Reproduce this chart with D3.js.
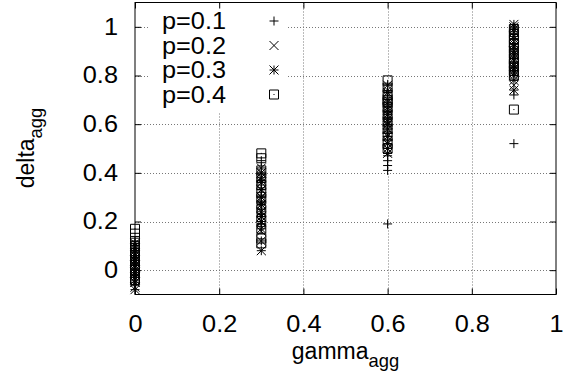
<!DOCTYPE html>
<html>
<head>
<meta charset="utf-8">
<script src="https://cdn.jsdelivr.net/npm/d3@7"></script>
<style>
  body { margin: 0; background: #fff; }
  text { font-family: "Liberation Sans", Arial, sans-serif; fill: #000; }
</style>
</head>
<body>
<div id="chart"></div>
<script>
// gamma values on the x axis
const gammaVals = [0, 0.3, 0.6, 0.9];
const seriesNames = ['p=0.1', 'p=0.2', 'p=0.3', 'p=0.4'];
const xTicks = [0, 0.2, 0.4, 0.6, 0.8, 1];
const yTicks = [0, 0.2, 0.4, 0.6, 0.8, 1];

// delta values per gamma (one row per gamma value)
const p01 = [
  [0.05, 0.03, 0.0, -0.02, 0.08, 0.1, -0.04, 0.06, 0.02, -0.06, 0.12, 0.04],
  [0.45, 0.42, 0.38, 0.35, 0.32, 0.3, 0.28, 0.25, 0.22, 0.2, 0.36, 0.18],
  [0.19, 0.41, 0.43, 0.45, 0.47, 0.5, 0.52, 0.55, 0.58, 0.62, 0.48, 0.65],
  [0.52, 0.72, 0.8, 0.83, 0.85, 0.88, 0.9, 0.93, 0.95, 0.98, 1.0, 0.87]
];
const p02 = [
  [-0.07, -0.04, -0.02, 0.0, 0.02, 0.04, 0.06, 0.08, 0.1, 0.03, -0.05, 0.01],
  [0.16, 0.2, 0.24, 0.27, 0.3, 0.33, 0.36, 0.38, 0.4, 0.42, 0.26, 0.22],
  [0.5, 0.53, 0.56, 0.6, 0.63, 0.66, 0.69, 0.72, 0.74, 0.58, 0.62, 0.68],
  [0.76, 0.8, 0.83, 0.86, 0.89, 0.92, 0.95, 0.98, 1.0, 0.84, 0.88, 0.9]
];
const p03 = [
  [-0.08, -0.05, -0.03, 0.0, 0.02, 0.04, 0.07, 0.09, 0.11, -0.01, 0.05, 0.03],
  [0.08, 0.12, 0.17, 0.2, 0.24, 0.27, 0.3, 0.33, 0.37, 0.4, 0.28, 0.22],
  [0.48, 0.52, 0.55, 0.58, 0.61, 0.64, 0.67, 0.7, 0.73, 0.76, 0.6, 0.65],
  [0.74, 0.78, 0.81, 0.84, 0.87, 0.9, 0.93, 0.96, 0.99, 1.01, 0.82, 0.92]
];
const p04 = [
  [0.17, 0.15, 0.12, 0.1, 0.07, 0.04, 0.02, -0.01, -0.04, 0.06, 0.09, 0.0],
  [0.48, 0.46, 0.41, 0.38, 0.35, 0.32, 0.29, 0.25, 0.21, 0.17, 0.13, 0.11],
  [0.78, 0.75, 0.72, 0.7, 0.67, 0.64, 0.61, 0.58, 0.55, 0.52, 0.5, 0.69],
  [0.66, 0.8, 0.82, 0.85, 0.87, 0.89, 0.91, 0.93, 0.95, 0.97, 0.99, 0.84]
];

const width = 576, height = 381;
const margin = {top: 2.5, right: 20, bottom: 86.5, left: 135};
const sx = 1.1; // text is a bit wider than normal in the reference
const fs = 23;

const x = d3.scaleLinear().domain([0, 1]).range([margin.left, width - margin.right]);
const y = d3.scaleLinear().domain([-0.1, 1.1]).range([height - margin.bottom, margin.top]);

const svg = d3.select('#chart').append('svg')
  .attr('width', width).attr('height', height);

// grid
const grid = svg.append('g').attr('class', 'grid')
  .attr('stroke', '#777').attr('stroke-width', 1).attr('stroke-dasharray', '1,2');
grid.selectAll('line.gx').data(xTicks.filter(d => d > 0 && d < 1))
  .join('line').attr('class', 'gx')
  .attr('x1', d => Math.round(x(d)) + 0.5).attr('x2', d => Math.round(x(d)) + 0.5)
  .attr('y1', y.range()[0]).attr('y2', y.range()[1]);
grid.selectAll('line.gy').data(yTicks)
  .join('line').attr('class', 'gy')
  .attr('y1', d => Math.round(y(d)) + 0.5).attr('y2', d => Math.round(y(d)) + 0.5)
  .attr('x1', x.range()[0]).attr('x2', x.range()[1]);

// legend background (opaque key)
svg.append('rect')
  .attr('x', 148).attr('y', 5).attr('width', 140).attr('height', 107)
  .attr('fill', '#fff');

// axes with inward ticks
const fmt = d => d3.format('')(+d.toFixed(1));
const ax = (g, axis) => {
  g.call(axis);
  g.select('.domain').remove();
  g.selectAll('line').attr('stroke', '#000');
  g.selectAll('text').attr('font-size', fs).attr('font-family', '"Liberation Sans", Arial, sans-serif');
};
svg.append('g').attr('transform', `translate(0,${y.range()[0]})`)
  .call(g => ax(g, d3.axisBottom(x).tickValues(xTicks).tickSize(-6).tickPadding(21).tickFormat(fmt)))
  .selectAll('text').attr('transform', `scale(${sx},1)`);
svg.append('g').attr('transform', `translate(0,${y.range()[1]})`)
  .call(g => ax(g, d3.axisTop(x).tickValues(xTicks).tickSize(-6).tickFormat('')));
svg.append('g').attr('transform', `translate(${x.range()[0]},0)`)
  .call(g => ax(g, d3.axisLeft(y).tickValues(yTicks).tickSize(-6).tickPadding(15.5).tickFormat(fmt)))
  .selectAll('text').attr('transform', `scale(${sx},1)`);
svg.append('g').attr('transform', `translate(${x.range()[1]},0)`)
  .call(g => ax(g, d3.axisRight(y).tickValues(yTicks).tickSize(-6).tickFormat('')));

// frame
svg.append('rect')
  .attr('x', x.range()[0]).attr('y', y.range()[1])
  .attr('width', x.range()[1] - x.range()[0]).attr('height', y.range()[0] - y.range()[1])
  .attr('fill', 'none').attr('stroke', '#000').attr('stroke-width', 1);

// point shapes
const h = 4.5;
const shapes = {
  plus: `M${-h},0H${h}M0,${-h}V${h}`,
  cross: `M${-h},${-h}L${h},${h}M${-h},${h}L${h},${-h}`,
  star: `M${-h},0H${h}M0,${-h}V${h}M${-h},${-h}L${h},${h}M${-h},${h}L${h},${-h}`,
  box: `M${-h},${-h}H${h}V${h}H${-h}ZM-0.5,0H0.5`
};
const shapeKeys = ['plus', 'cross', 'star', 'box'];
const allSeries = [p01, p02, p03, p04];

const pts = allSeries.map((s, si) => ({
  name: seriesNames[si],
  shape: shapeKeys[si],
  values: s.flatMap((row, gi) => row.map(v => ({g: gammaVals[gi], v})))
}));

svg.append('g').attr('class', 'points')
  .selectAll('g.series').data(pts)
  .join('g').attr('class', 'series')
  .each(function(s) {
    d3.select(this).selectAll('path').data(s.values)
      .join('path')
      .attr('transform', d => `translate(${x(d.g)},${y(d.v)})`)
      .attr('d', shapes[s.shape])
      .attr('fill', 'none').attr('stroke', '#000').attr('stroke-width', 1);
  });

// legend
const leg = svg.append('g').attr('class', 'legend')
  .selectAll('g.item').data(pts)
  .join('g').attr('class', 'item')
  .attr('transform', (d, i) => `translate(0,${21 + i * 24.5})`);
leg.append('text')
  .attr('transform', `translate(162,8) scale(${sx},1)`)
  .attr('font-size', fs)
  .text(d => d.name);
leg.append('path')
  .attr('transform', 'translate(274,0)')
  .attr('d', d => shapes[d.shape])
  .attr('fill', 'none').attr('stroke', '#000').attr('stroke-width', 1);

// axis titles
const xl = svg.append('text')
  .attr('transform', `translate(${(x.range()[0] + x.range()[1]) / 2},359)`)
  .attr('text-anchor', 'middle').attr('font-size', fs);
xl.append('tspan').text('gamma');
xl.append('tspan').attr('font-size', fs * 0.8).attr('dy', 8).text('agg');

const yl = svg.append('text')
  .attr('transform', `translate(34,148) rotate(-90)`)
  .attr('text-anchor', 'middle').attr('font-size', fs);
yl.append('tspan').text('delta');
yl.append('tspan').attr('font-size', fs * 0.8).attr('dy', 8).text('agg');
</script>
</body>
</html>
